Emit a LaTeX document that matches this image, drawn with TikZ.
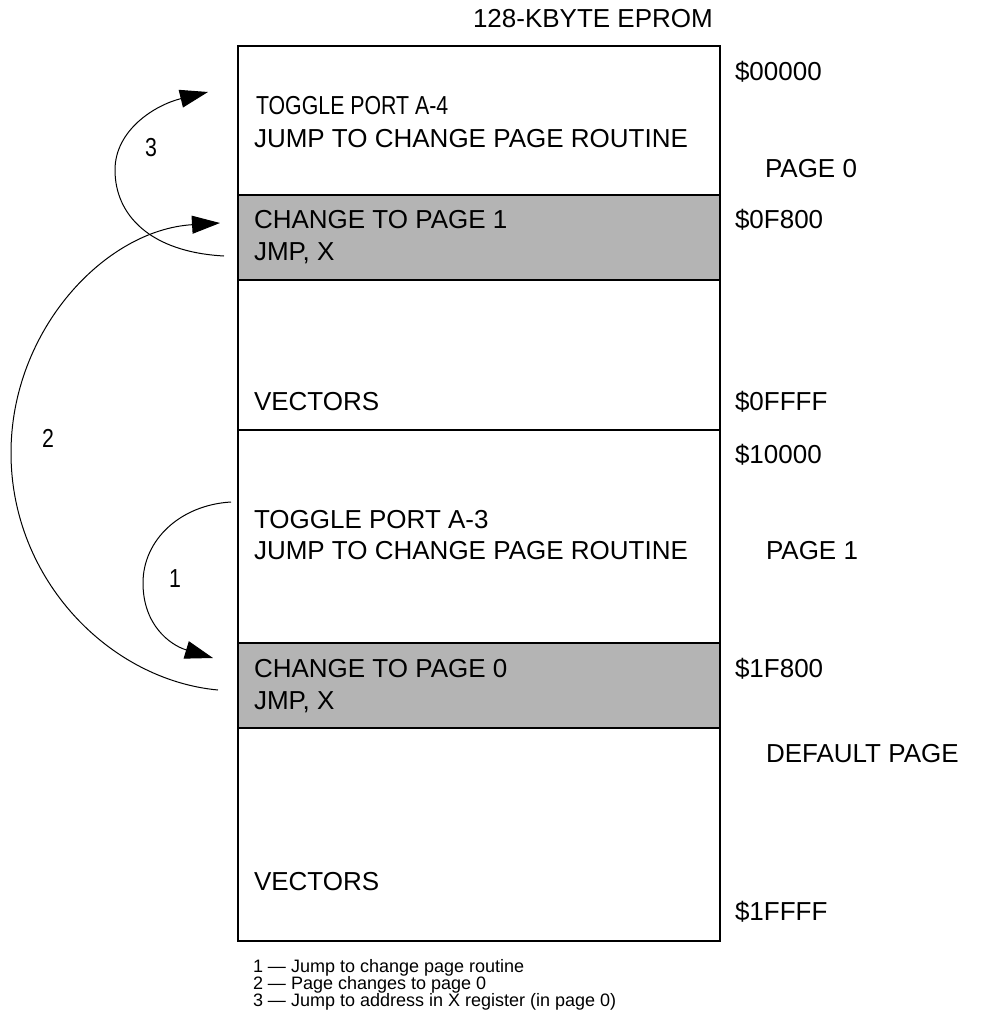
\documentclass[tikz,border=0pt]{standalone}
\usepackage{fontspec}
\setmainfont{Liberation Sans}
\newfontfamily\narrowfont[FakeStretch=0.82]{Liberation Sans}
\usetikzlibrary{arrows.meta}
\definecolor{memgray}{RGB}{180,180,180}
\tikzset{
  sect/.style={draw, line width=2pt, minimum width=482pt, anchor=north west, inner sep=0pt, outer sep=0pt},
  graysect/.style={sect, fill=memgray},
  txt/.style={anchor=base west, inner sep=0pt, outer sep=0pt, font=\fontsize{26}{30}\selectfont},
  ntxt/.style={anchor=base west, inner sep=0pt, outer sep=0pt, font=\narrowfont\fontsize{26}{30}\selectfont},
  num/.style={anchor=base, inner sep=0pt, outer sep=0pt, font=\narrowfont\fontsize{26}{30}\selectfont},
  legend/.style={anchor=base west, inner sep=0pt, outer sep=0pt, font=\fontsize{18}{17}\selectfont},
  flow/.style={line width=1pt, -{Triangle[length=28pt,width=18pt]}}
}
\begin{document}
\begin{tikzpicture}[x=1pt,y=-1pt]
\useasboundingbox (0,0) rectangle (982,1022);
% memory sections
\node[sect, minimum height=149pt] (s0) at (238,46) {};
\node[graysect, minimum height=85pt] (s1) at (238,195) {};
\node[sect, minimum height=150pt] (s2) at (238,280) {};
\node[sect, minimum height=213pt] (s3) at (238,430) {};
\node[graysect, minimum height=85pt] (s4) at (238,643) {};
\node[sect, minimum height=213pt] (s5) at (238,728) {};
% title
\node[txt] (title) at (473,28) {128-KBYTE EPROM};
% section texts
\node[ntxt] (t0a) at (256,115) {TOGGLE PORT A-4};
\node[txt] (t0b) at (254,147) {JUMP TO CHANGE PAGE ROUTINE};
\node[txt] (t1a) at (254,228) {CHANGE TO PAGE 1};
\node[txt] (t1b) at (254,260) {JMP, X};
\node[txt] (t2) at (254,410) {VECTORS};
\node[txt] (t3a) at (254,528) {TOGGLE PORT A-3};
\node[txt] (t3b) at (254,559) {JUMP TO CHANGE PAGE ROUTINE};
\node[txt] (t4a) at (254,677) {CHANGE TO PAGE 0};
\node[txt] (t4b) at (254,709) {JMP, X};
\node[txt] (t5) at (254,890) {VECTORS};
% addresses and page labels
\node[txt] (ad0) at (735,81) {\$00000};
\node[txt] (pg0) at (765,177) {PAGE 0};
\node[txt] (ad1) at (735,228) {\$0F800};
\node[txt] (ad2) at (735,410) {\$0FFFF};
\node[txt] (ad3) at (735,463) {\$10000};
\node[txt] (pg1) at (766,559) {PAGE 1};
\node[txt] (ad4) at (735,677) {\$1F800};
\node[txt] (pgd) at (766,762) {DEFAULT PAGE};
\node[txt] (ad5) at (735,920) {\$1FFFF};
% arrow numbers
\node[num] (n3) at (151,157) {3};
\node[num] (n2) at (48,447) {2};
\node[num] (n1) at (175,587) {1};
% arrow end points
\coordinate (a3s) at (224,256);
\coordinate (a3e) at (208,92);
\coordinate (a2s) at (218,690);
\coordinate (a2e) at (220,223);
\coordinate (a1s) at (231,502);
\coordinate (a1e) at (213,658);
% arrows
\draw[flow] (a3s) .. controls (150,252) and (115,215) .. (115,170)
  .. controls (115,130) and (155,105) .. (a3e);
\draw[flow] (a2s) .. controls (110,680) and (11,580) .. (11,453)
  .. controls (11,330) and (105,230) .. (a2e);
\draw[flow] (a1s) .. controls (180,505) and (143,540) .. (143,583)
  .. controls (143,625) and (170,645) .. (a1e);
% legend
\node[legend] (l1) at (253,972) {1 — Jump to change page routine};
\node[legend] (l2) at (253,989) {2 — Page changes to page 0};
\node[legend] (l3) at (253,1006) {3 — Jump to address in X register (in page 0)};
\end{tikzpicture}
\end{document}
